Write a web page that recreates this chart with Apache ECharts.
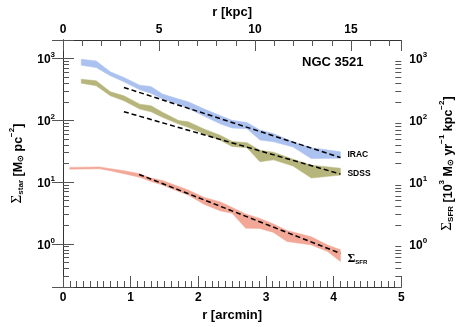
<!DOCTYPE html>
<html><head><meta charset="utf-8">
<script src="https://cdn.jsdelivr.net/npm/echarts@6/dist/echarts.min.js"></script>
<style>html,body{margin:0;padding:0;background:#fff}#c{width:463px;height:327px}</style>
</head><body><div id="c"></div>
<script>
// ---- data ----
const rArcmin = [0.27,0.49,0.70,0.90,1.135,1.30,1.47,1.71,1.85,2.09,2.33,2.50,2.72,2.91,3.11,3.40,3.67,4.10];
const iracHi  = [975,918,610,494,371,353,266,221,200,152,119,100,92,70,61,45,36,31];
const iracLo  = [780,716,526,421,313,275,221,183,156,116,87,75,73,48,45,37,24,24.4];
const sdssHi  = [464,437,290,250,183,173,135,99,95,72,57,45.5,43.4,32.8,30.5,23.5,18.8,16.8];
const sdssLo  = [400,363,250,208,152,138,112,87,77,60,47,37.8,36,21.3,22.9,18.2,11.6,13];
const sfrR    = [0.10,0.54,0.70,0.90,1.13,1.30,1.47,1.71,1.85,2.09,2.33,2.50,2.70,2.91,3.11,3.31,3.67,3.91,4.10];
const sfrHi   = [17.3,17.6,16.5,15.3,13.7,11.6,10.6,8.46,7.43,5.62,4.76,3.88,3.05,2.58,2.10,1.65,1.30,0.96,0.80];
const sfrLo   = [16.2,16.4,15.3,13.7,12.0,10.2,8.95,7.03,6.17,4.34,3.41,3.13,1.79,1.78,1.53,1.09,0.96,0.75,0.52];
const iracFit = [[0.90,341],[4.10,25.0]];
const sdssFit = [[0.90,138],[4.10,13.5]];
const sfrFit  = [[1.125,13.3],[4.10,0.70]];
const minorTickVals = [0.2,0.3,0.4,0.5,0.6,0.7,0.8,0.9,2,3,4,5,6,7,8,9,20,30,40,50,60,70,80,90,200,300,400,500,600,700,800,900];
const kpcMax = 17.62;

const FONT = '"Liberation Sans", Arial, Helvetica, sans-serif';
const SERIF = '"Liberation Serif", "DejaVu Serif", serif';
const chart = echarts.init(document.getElementById('c'), null, {renderer:'canvas'});

function band(name, r, lo, hi, color) {
  return {
    type:'custom', name, xAxisIndex:0, yAxisIndex:0, silent:true, z:1,
    data: r.map((x,i)=>[x, lo[i], hi[i]]),
    encode:{x:0, y:[1,2]},
    renderItem(params, api) {
      if (params.dataIndex !== 0) return;
      const pts = [];
      for (let i=0;i<r.length;i++) pts.push(api.coord([r[i], hi[i]]));
      for (let i=r.length-1;i>=0;i--) pts.push(api.coord([r[i], lo[i]]));
      return {type:'polygon', shape:{points:pts}, style:{fill:color, stroke:color, lineWidth:0.5}};
    }
  };
}
function fit(name, data, label, rich, offset) {
  return {
    type:'line', name, xAxisIndex:0, yAxisIndex:0, data, symbol:'none', z:5, silent:true,
    lineStyle:{color:'#000', width:1.5, type:[5,3]},
    endLabel:{show:true, formatter:label, distance:7, offset, color:'#000',
      fontFamily:FONT, fontWeight:'bold', fontSize:8.5, rich}
  };
}
const axisCol = '#333';
const powLabel = v => { const e = Math.log10(v), n = Math.round(e); return Math.abs(e-n) > 1e-6 ? '' : '{b|10}{s|'+n+'}'; };
const labRich = {
  b:{fontSize:12, fontWeight:'bold', fontFamily:FONT, color:'#000', lineHeight:15, verticalAlign:'bottom'},
  s:{fontSize:8, fontWeight:'bold', fontFamily:FONT, color:'#000', lineHeight:9, verticalAlign:'top'}
};
const nameRich = {
  S:{fontSize:15, fontFamily:SERIF, color:'#000', lineHeight:17, verticalAlign:'bottom'},
  t:{fontSize:12.5, fontWeight:'bold', fontFamily:FONT, color:'#000', lineHeight:17, verticalAlign:'bottom'},
  sub:{fontSize:8, fontWeight:'bold', fontFamily:FONT, color:'#000', lineHeight:8, verticalAlign:'bottom'},
  sup:{fontSize:8, fontWeight:'bold', fontFamily:FONT, color:'#000', lineHeight:8, verticalAlign:'top'}
};
function yMajor(pos, name, gap) {
  return {type:'log', position:pos, min:0.2, max:2000, logBase:10, splitNumber:4,
    axisLine:{show:true, lineStyle:{color:axisCol, width:1}},
    axisTick:{show:true, inside:true, length:11, lineStyle:{color:'#555'}},
    splitLine:{show:false}, minorTick:{show:false},
    axisLabel:{formatter:powLabel, rich:labRich, margin:8},
    name, nameLocation:'middle', nameRotate:90, nameGap:gap, nameTextStyle:{rich:nameRich}};
}
function yMinor(pos) {
  return {type:'log', position:pos, min:0.2, max:2000, logBase:10,
    axisLine:{show:false}, splitLine:{show:false},
    axisTick:{show:true, inside:true, length:6, customValues:minorTickVals, lineStyle:{color:'#555'}},
    axisLabel:{show:false}};
}
const tickFont = {fontSize:12, fontWeight:'bold', fontFamily:FONT, color:'#000'};

chart.setOption({
  animation:false,
  backgroundColor:'#fff',
  grid:{left:58, right:57, top:40, bottom:40},
  xAxis:[
    {type:'value', position:'bottom', min:0, max:5, interval:1,
      axisLine:{show:true, lineStyle:{color:axisCol}},
      axisTick:{show:true, inside:true, length:11, lineStyle:{color:'#555'}},
      minorTick:{show:true, splitNumber:10, length:6, lineStyle:{color:'#555'}},
      splitLine:{show:false},
      axisLabel:Object.assign({margin:5}, tickFont),
      name:'r [arcmin]', nameLocation:'middle', nameGap:16,
      nameTextStyle:{fontSize:13, fontWeight:'bold', fontFamily:FONT, color:'#000', verticalAlign:'top'}},
    {type:'value', position:'top', min:0, max:kpcMax, interval:1,
      axisLine:{show:true, lineStyle:{color:axisCol}},
      axisTick:{show:true, inside:true, length:6, lineStyle:{color:'#555'}},
      splitLine:{show:false}, axisLabel:{show:false}},
    {type:'value', position:'top', min:0, max:kpcMax, interval:5,
      axisLine:{show:false},
      axisTick:{show:true, inside:true, length:11, lineStyle:{color:'#555'}},
      splitLine:{show:false},
      axisLabel:Object.assign({margin:4, formatter: v => (v % 5 === 0 ? String(v) : '')}, tickFont),
      name:'r [kpc]', nameLocation:'middle', nameGap:15,
      nameTextStyle:{fontSize:13, fontWeight:'bold', fontFamily:FONT, color:'#000', verticalAlign:'bottom'}}
  ],
  yAxis:[
    yMajor('left', '{S|Σ}{sub|star}{t| [M}{sub|⊙}{t| pc}{sup|−2}{t|]}', 38),
    yMinor('left'),
    yMajor('right', '{S|Σ}{sub|SFR}{t| [10}{sup|3}{t| M}{sub|⊙}{t| yr}{sup|−1}{t| kpc}{sup|−2}{t|]}', 35),
    yMinor('right')
  ],
  graphic:[{type:'text', left:302, top:56, style:{text:'NGC 3521', font:'bold 13px '+FONT, fill:'#000'}}],
  series:[
    band('IRAC band', rArcmin, iracLo, iracHi, '#abc1ef'),
    band('SDSS band', rArcmin, sdssLo, sdssHi, '#b6b57b'),
    band('SFR band', sfrR, sfrLo, sfrHi, '#f3a797'),
    fit('IRAC fit', iracFit, 'IRAC', null, [0,-3]),
    fit('SDSS fit', sdssFit, 'SDSS', null, [0,0]),
    fit('SFR fit', sfrFit, '{S|Σ}{sub|SFR}', {
      S:{fontSize:12, fontFamily:SERIF, color:'#000', lineHeight:13, verticalAlign:'bottom'},
      sub:{fontSize:6, fontFamily:FONT, color:'#000', lineHeight:6, verticalAlign:'bottom'}}, [0,5])
  ]
});
</script></body></html>
